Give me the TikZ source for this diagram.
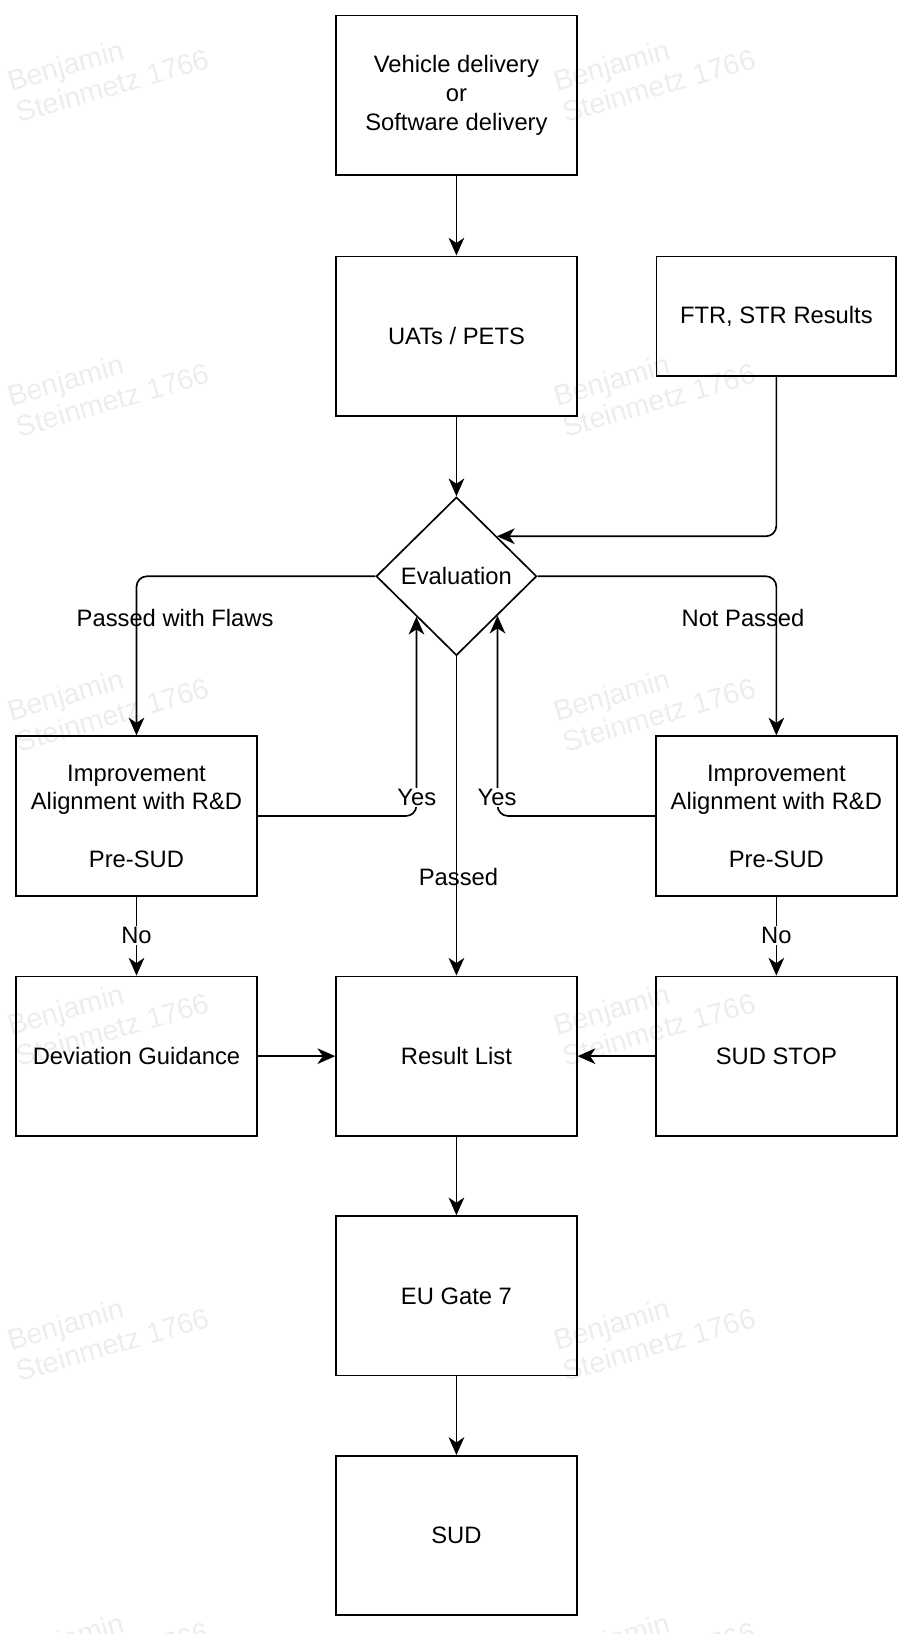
\documentclass[tikz,border=0pt]{standalone}
\usepackage{fontspec}
\setmainfont{Liberation Sans}
\usetikzlibrary{arrows.meta,shapes.geometric,calc}
\begin{document}
\begin{tikzpicture}[x=1pt,y=-1pt,
  every node/.style={font=\fontsize{22.8}{27.5}\selectfont},
  box/.style={draw, line width=1.6pt, minimum width=231pt, minimum height=153pt, inner sep=0pt, align=center},
  conn/.style={line width=1.6pt, rounded corners=10pt, -{Stealth[length=17pt,width=15pt,inset=5pt]}},
  lbl/.style={fill=white, inner sep=1pt},
  wm/.style={text=black!7, rotate=16, align=left, font=\fontsize{27.5}{31}\selectfont}
]
\useasboundingbox (0,0) rectangle (877,1568);
% watermarks
\foreach \yy [count=\i] in {67,369,671,973,1275,1577}{
  \node[wm] (wl\i) at (104,\yy) {Benjamin\\Steinmetz 1766};
  \node[wm] (wr\i) at (628,\yy) {Benjamin\\Steinmetz 1766};
}
% nodes
\node[box] (veh) at (438,91.5) {Vehicle delivery\\or\\Software delivery};
\node[box] (uat) at (438,322.5) {UATs / PETS};
\node[box, minimum width=230pt, minimum height=115pt] (ftr) at (745,303.5) {FTR, STR Results};
\node[draw, diamond, line width=1.6pt, minimum width=154pt, minimum height=152pt, inner sep=0pt] (eval) at (438,553) {Evaluation};
\node[box] (impl) at (131,783) {Improvement\\Alignment with R\&D\\ \\Pre-SUD};
\node[box] (impr) at (745,783) {Improvement\\Alignment with R\&D\\ \\Pre-SUD};
\node[box] (dev) at (131,1013.5) {Deviation Guidance};
\node[box] (res) at (438,1013.5) {Result List};
\node[box] (stop) at (745,1013.5) {SUD STOP};
\node[box] (gate) at (438,1243.5) {EU Gate 7};
\node[box] (sud) at (438,1473.5) {SUD};
% helper coordinates on diamond edges
\coordinate (ein) at ($(eval.north)!0.5!(eval.east)$);
\coordinate (eyl) at ($(eval.south)!0.4935!(eval.west)$);
\coordinate (eyr) at ($(eval.south)!0.5065!(eval.east)$);
% connectors
\draw[conn] (veh) -- (uat);
\draw[conn] (uat) -- (eval.north);
\draw[conn] (ftr.south) |- (ein);
\draw[conn] (eval.west) -| (impl.north);
\draw[conn] (eval.east) -| (impr.north);
\draw[conn] (impl.east) -| (eyl);
\draw[conn] (impr.west) -| (eyr);
\draw[conn] (eval.south) -- (res.north);
\draw[conn] (impl.south) -- (dev.north);
\draw[conn] (impr.south) -- (stop.north);
\draw[conn] (dev.east) -- (res.west);
\draw[conn] (stop.west) -- (res.east);
\draw[conn] (res) -- (gate);
\draw[conn] (gate) -- (sud);
% labels
\node (lpf) at (168,593) {Passed with Flaws};
\node (lnp) at (713,593) {Not Passed};
\node[lbl] (lyl) at (400,765) {Yes};
\node[lbl] (lyr) at (477,765) {Yes};
\node (lps) at (440,842) {Passed};
\node[lbl] (lnl) at (131,898) {No};
\node[lbl] (lnr) at (745,898) {No};
\end{tikzpicture}
\end{document}
